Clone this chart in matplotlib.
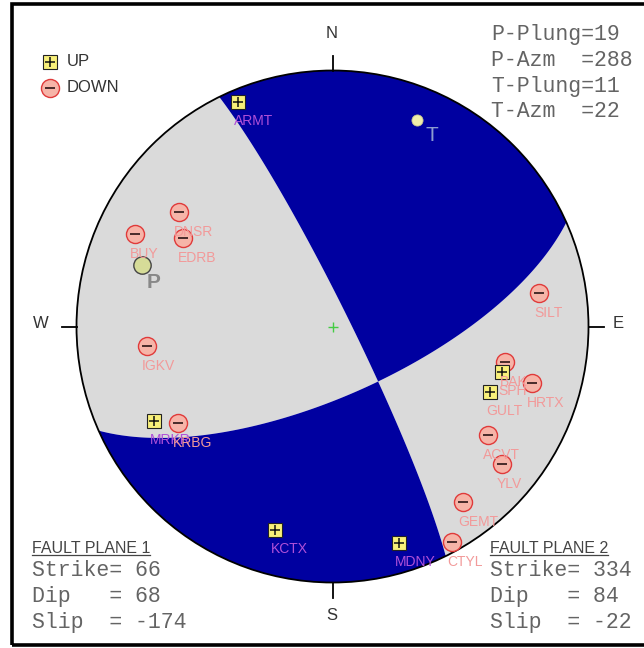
import matplotlib
matplotlib.use('Agg')
import matplotlib.pyplot as plt
from matplotlib.patches import Circle, Rectangle
import numpy as np

# fault plane solution
strike1, dip1, slip1 = 66, 68, -174
strike2, dip2, slip2 = 334, 84, -22
p_plung, p_azm, t_plung, t_azm = 19, 288, 11, 22

# station polarities (x=east, y=north on unit focal circle)
up_names = ['ARMT', 'MRKR', 'KCTX', 'MDNY', 'GULT', 'SPH']
up_x = [-0.369, -0.697, -0.225, 0.260, 0.615, 0.662]
up_y = [0.877, -0.369, -0.795, -0.846, -0.256, -0.178]

down_names = ['DNSR', 'BUY', 'EDRB', 'IGKV', 'KRBG', 'SILT', 'BAK',
              'HRTX', 'ACVT', 'YLV', 'GEMT', 'CTYL']
down_x = [-0.600, -0.771, -0.584, -0.725, -0.604, 0.807, 0.674,
          0.779, 0.607, 0.662, 0.510, 0.467]
down_y = [0.447, 0.361, 0.346, -0.076, -0.377, 0.131, -0.139,
          -0.221, -0.424, -0.537, -0.686, -0.842]

p_xy = (-0.744, 0.240)
t_xy = (0.330, 0.807)

BLUE = '#0000a0'
GRAY = '#dadada'
UPCOL = '#b050d8'
DNCOL = '#f29a9a'
W, H = 644, 648
CX, CY, R = 332.5, 326.5, 256.0


def pix(px, py):
    # pixel position -> data coords
    return (px - CX) / R, (CY - py) / R


fig = plt.figure(figsize=(W / 100, H / 100), dpi=100)
ax = fig.add_axes([0, 0, 1, 1])
ax.set_xlim(-CX / R, (W - CX) / R)
ax.set_ylim((CY - H) / R, CY / R)
ax.axis('off')

# radiation pattern on lower hemisphere, equal-area projection
phi, dlt, lam = np.radians([strike1, dip1, slip1])
n = np.array([-np.sin(dlt) * np.sin(phi), np.sin(dlt) * np.cos(phi), -np.cos(dlt)])
d = np.array([np.cos(lam) * np.cos(phi) + np.cos(dlt) * np.sin(lam) * np.sin(phi),
              np.cos(lam) * np.sin(phi) - np.cos(dlt) * np.sin(lam) * np.cos(phi),
              -np.sin(lam) * np.sin(dlt)])
g = np.linspace(-1.02, 1.02, 900)
X, Y = np.meshgrid(g, g)
rr = np.clip(np.hypot(X, Y), 0, np.sqrt(2))
th = 2 * np.arcsin(rr / np.sqrt(2))
az = np.arctan2(X, Y)
gam = np.stack([np.sin(th) * np.cos(az), np.sin(th) * np.sin(az), np.cos(th)])
amp = np.tensordot(n, gam, 1) * np.tensordot(d, gam, 1)
cs = ax.contourf(X, Y, amp, levels=[-10, 0, 10], colors=[GRAY, BLUE], antialiased=True)
clip = Circle((0, 0), 1, transform=ax.transData)
cs.set_clip_path(clip)

ax.add_patch(Circle((0, 0), 1, fill=False, ec='black', lw=1.3, zorder=3))
tl = 15 / R
for a in [0, 90, 180, 270]:
    s, c = np.sin(np.radians(a)), np.cos(np.radians(a))
    ax.plot([s, s * (1 + tl)], [c, c * (1 + tl)], color='black', lw=1.3, zorder=3)
ax.plot(0, 0, marker='+', color='#44cc44', ms=7, mew=1.0, zorder=4)

lab = dict(family='Liberation Sans', color='#333333', fontsize=12, ha='center', va='center')
ax.text(*pix(332, 34), 'N', **lab)
ax.text(*pix(332, 615), 'S', **lab)
ax.text(*pix(41, 323), 'W', **lab)
ax.text(*pix(618, 324), 'E', **lab)

# stations
ax.plot(down_x, down_y, 'o', ms=13, mfc='#f6b4a8', mec='#e03a3a', mew=1.0, zorder=5)
ax.plot(down_x, down_y, '_', ms=6.5, color='#3a2020', mew=1.3, zorder=6)
ax.plot(up_x, up_y, 's', ms=10.5, mfc='#f8f07a', mec='#222222', mew=0.8, zorder=5)
ax.plot(up_x, up_y, '+', ms=7.5, color='#111111', mew=1.1, zorder=6)
for nm, x, y in zip(up_names, up_x, up_y):
    col = DNCOL if x > 0.5 else UPCOL
    ax.text(x - 4 / R, y - 19 / R, nm, family='Liberation Sans', fontsize=10,
            color=col, ha='left', va='center', zorder=7)
for nm, x, y in zip(down_names, down_x, down_y):
    ax.text(x - 5 / R, y - 20 / R, nm, family='Liberation Sans', fontsize=10,
            color=DNCOL, ha='left', va='center', zorder=7)

# P and T axes
ax.plot(*p_xy, 'o', ms=12.5, mfc='#d6dc98', mec='#444444', mew=1.0, zorder=6)
ax.text(p_xy[0] + 12 / R, p_xy[1] - 17 / R, 'P', family='Liberation Sans', fontsize=15,
        fontweight='bold', color='#888888', ha='center', va='center', zorder=7)
ax.plot(*t_xy, 'o', ms=8, mfc='#f0eeaa', mec='#c8c890', mew=0.6, zorder=6)
ax.text(t_xy[0] + 15 / R, t_xy[1] - 16 / R, 'T', family='Liberation Sans', fontsize=15,
        color='#8c9cd0', ha='center', va='center', zorder=7)

# legend
ax.plot(*pix(50, 61.5), 's', ms=10.5, mfc='#f8f07a', mec='#222222', mew=0.8)
ax.plot(*pix(50, 61.5), '+', ms=7.5, color='#111111', mew=1.1)
ax.plot(*pix(50, 87.5), 'o', ms=13, mfc='#f6b4a8', mec='#e03a3a', mew=1.0)
ax.plot(*pix(50, 87.5), '_', ms=6.5, color='#3a2020', mew=1.3)
ax.text(*pix(67, 62), 'UP', family='Liberation Sans', fontsize=12, color='#333333', va='center')
ax.text(*pix(67, 88), 'DOWN', family='Liberation Sans', fontsize=12, color='#333333', va='center')

mono = dict(family='Liberation Mono', fontsize=15.5, color='#646464', va='baseline')
pt_lines = [f'P-Plung={p_plung}', f'P-Azm  ={p_azm}', f'T-Plung={t_plung}', f'T-Azm  ={t_azm}']
for i, s in enumerate(pt_lines):
    ax.text(*pix(491, 40 + i * 25.8), s, **mono)

heads = []
for x0, k, (st, dp, sl) in [(32, 1, (strike1, dip1, slip1)), (490, 2, (strike2, dip2, slip2))]:
    heads.append(ax.text(*pix(x0, 553), f'FAULT PLANE {k}', family='Liberation Sans',
                         fontsize=11.5, color='#444444', va='baseline'))
    ax.text(*pix(x0, 576), f'Strike= {st}', **mono)
    ax.text(*pix(x0, 602), f'Dip   = {dp}', **mono)
    ax.text(*pix(x0, 628), f'Slip  = {sl}', **mono)

fig.canvas.draw()
inv = ax.transData.inverted()
for t in heads:
    bb = t.get_window_extent()
    (x0, y0), (x1, _) = inv.transform([(bb.x0, bb.y0 + 1), (bb.x1, bb.y0)])
    ax.plot([x0, x1], [y0, y0], color='#444444', lw=0.9)

fig.add_artist(Rectangle((12.5 / W, 3 / H), 640 / W, 641 / H, transform=fig.transFigure,
                         fill=False, ec='black', lw=2.6))

fig.savefig('out.png', dpi=100)
